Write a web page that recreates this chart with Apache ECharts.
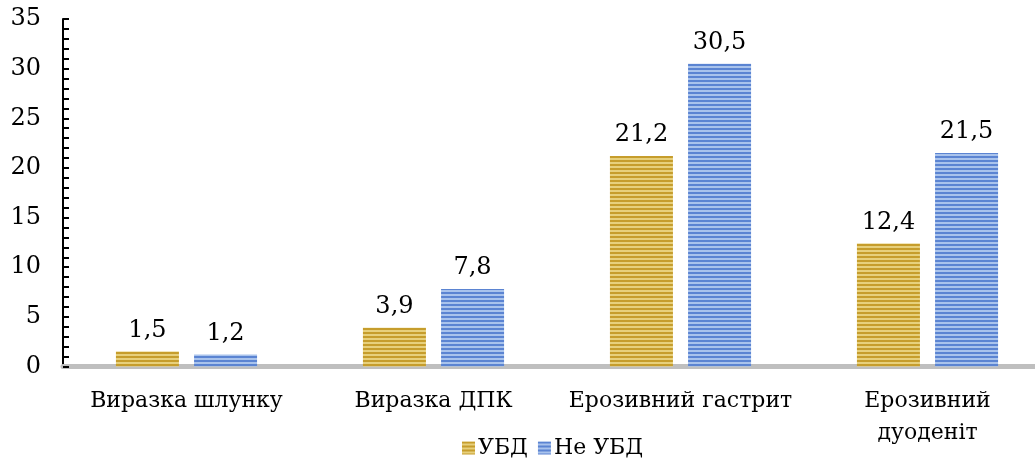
<!DOCTYPE html>
<html>
<head>
<meta charset="utf-8">
<script src="https://cdn.jsdelivr.net/npm/echarts@6/dist/echarts.min.js"></script>
<style>html,body{margin:0;padding:0;background:#fff;overflow:hidden;width:1035px;height:461px}#c{width:1051px;height:461px}</style>
</head>
<body>
<div id="c"></div>
<script>
const categories = ['Виразка шлунку', 'Виразка ДПК', 'Ерозивний гастрит', 'Ерозивний\nдуоденіт'];
const seriesNames = ['УБД', 'Не УБД'];
const ubdValues = [1.5, 3.9, 21.2, 12.4];
const neUbdValues = [1.2, 7.8, 30.5, 21.5];
const yTicks = [0, 5, 10, 15, 20, 25, 30, 35];

function stripes(dark, light) {
  const c = document.createElement('canvas');
  c.width = 8; c.height = 4;
  const g = c.getContext('2d');
  g.fillStyle = dark; g.fillRect(0, 0, 8, 4);
  g.fillStyle = light; g.fillRect(0, 2, 8, 2);
  return { image: c, repeat: 'repeat' };
}
const goldPat = stripes('#c69d2c', '#e7d07c');
const bluePat = stripes('#5b84d2', '#a9c3ec');

const FONT = 'DejaVu Serif';
const fmt = p => String(p.value).replace('.', ',');
const chart = echarts.init(document.getElementById('c'), null, { renderer: 'canvas' });
chart.setOption({
  animation: false,
  backgroundColor: '#fff',
  grid: { left: 63, right: 0, top: 19, bottom: 94.5, containLabel: false },
  legend: {
    top: 432, left: 457,
    icon: 'rect', itemWidth: 13, itemHeight: 13, itemGap: 10,
    textStyle: { fontFamily: FONT, fontSize: 22, color: '#000', padding: [0, 0, 0, -2] },
    data: seriesNames
  },
  xAxis: {
    type: 'category', data: categories,
    axisLine: { lineStyle: { color: '#bfbfbf', width: 5 } },
    axisTick: { show: false },
    axisLabel: { fontFamily: FONT, fontSize: 22, color: '#000', margin: 19, lineHeight: 32, interval: 0 }
  },
  yAxis: {
    type: 'value', min: yTicks[0], max: yTicks[yTicks.length - 1], interval: 5,
    splitLine: { show: false },
    axisLine: { show: true, lineStyle: { color: '#000', width: 2 } },
    axisTick: { show: true, inside: true, length: 6, lineStyle: { color: '#000', width: 2 } },
    minorTick: { show: true, splitNumber: 5, length: 6, lineStyle: { color: '#000', width: 2 } },
    axisLabel: { fontFamily: FONT, fontSize: 24, color: '#000', margin: 22 }
  },
  series: [
    {
      name: seriesNames[0], type: 'bar', data: ubdValues,
      barWidth: 63, barGap: '24%',
      itemStyle: { color: goldPat },
      label: { show: true, position: 'top', distance: 9, formatter: fmt, fontFamily: FONT, fontSize: 24, color: '#000' }
    },
    {
      name: seriesNames[1], type: 'bar', data: neUbdValues,
      barWidth: 63,
      itemStyle: { color: bluePat },
      label: { show: true, position: 'top', distance: 9, formatter: fmt, fontFamily: FONT, fontSize: 24, color: '#000' }
    }
  ]
});
</script>
</body>
</html>
